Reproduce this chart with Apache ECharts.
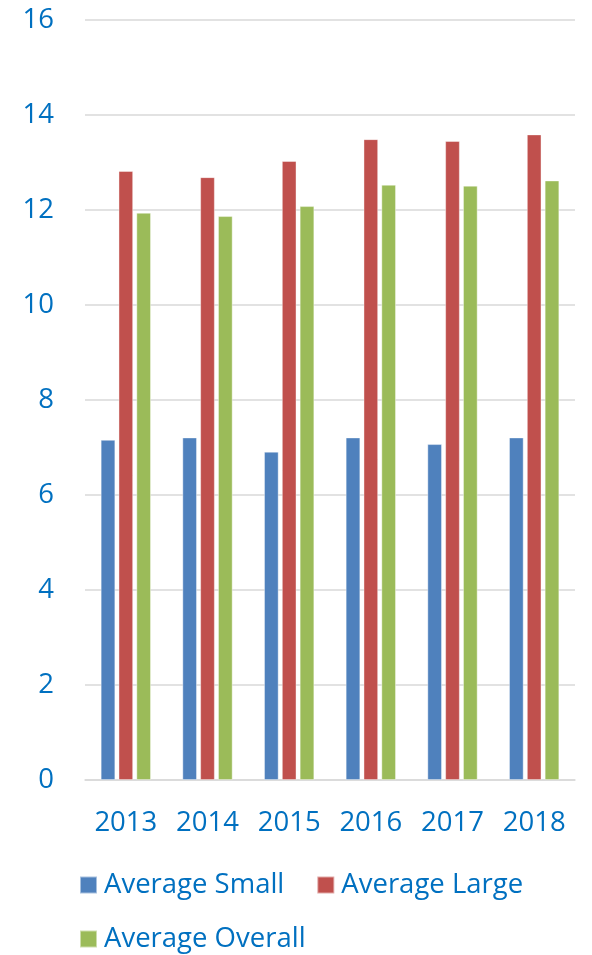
<!DOCTYPE html>
<html><head><meta charset="utf-8">
<script src="https://cdn.jsdelivr.net/npm/echarts@6/dist/echarts.min.js"></script>
<style>html,body{margin:0;padding:0;background:#fff}#c{width:592px;height:955px}</style>
</head><body><div id="c"></div>
<script>
const categories = ['2013','2014','2015','2016','2017','2018'];
const avgSmall = [7.16, 7.21, 6.91, 7.21, 7.07, 7.21];
const avgLarge = [12.82, 12.69, 13.03, 13.49, 13.45, 13.59];
const avgOverall = [11.94, 11.87, 12.08, 12.53, 12.51, 12.62];
const yTicks = [0, 2, 4, 6, 8, 10, 12, 14, 16];
const seriesNames = ['Average Small', 'Average Large', 'Average Overall'];

const txt = '#0070C0';
const font = 'Open Sans';
const chart = echarts.init(document.getElementById('c'));
const mk = (name, data, color) => ({
  name, type: 'bar', data, barWidth: 14.5, barGap: '23%',
  itemStyle: { color, borderColor: 'rgba(255,255,255,0.5)', borderWidth: 0.8 }
});
const legendBase = {
  left: 79, orient: 'horizontal', padding: 0,
  itemWidth: 17, itemHeight: 17, itemGap: 32, icon: 'rect',
  textStyle: { color: txt, fontFamily: font, fontSize: 27.5, padding: [0, 0, 0, 2] }
};
chart.setOption({
  animation: false,
  grid: { left: 85, right: 17, top: 20, bottom: 175 },
  xAxis: {
    type: 'category', data: categories,
    axisLine: { lineStyle: { color: '#d9d9d9', width: 1.5 } },
    axisTick: { show: false },
    axisLabel: { color: txt, fontFamily: font, fontSize: 27.5, margin: 29, interval: 0, hideOverlap: false }
  },
  yAxis: {
    type: 'value', min: yTicks[0], max: yTicks[yTicks.length - 1], interval: 2,
    axisLine: { show: false }, axisTick: { show: false },
    splitLine: { lineStyle: { color: '#d9d9d9', width: 1.5 } },
    axisLabel: { color: txt, fontFamily: font, fontSize: 27.5, margin: 31 }
  },
  legend: [
    Object.assign({}, legendBase, { top: 871, data: seriesNames.slice(0, 2) }),
    Object.assign({}, legendBase, { top: 925, data: seriesNames.slice(2) })
  ],
  series: [
    mk(seriesNames[0], avgSmall, '#4F81BD'),
    mk(seriesNames[1], avgLarge, '#C0504D'),
    mk(seriesNames[2], avgOverall, '#9BBB59')
  ]
});
</script></body></html>
